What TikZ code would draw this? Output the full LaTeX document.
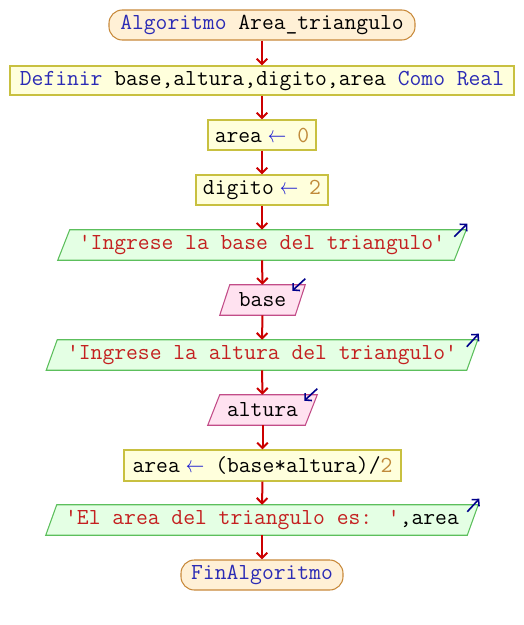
\documentclass[tikz,border=0pt]{standalone}
\usepackage{fontspec}
\usepackage{graphicx}
\usetikzlibrary{arrows.meta,backgrounds,calc}
\definecolor{kw}{HTML}{2B2BB5}
\definecolor{num}{HTML}{C08A3A}
\definecolor{strc}{HTML}{C42020}
\definecolor{asg}{HTML}{1A1AD0}
\definecolor{termfill}{HTML}{FFF0D6}
\definecolor{termdraw}{HTML}{C8893A}
\definecolor{procfill}{HTML}{FFFFDC}
\definecolor{procdraw}{HTML}{C8C040}
\definecolor{outfill}{HTML}{E4FFE4}
\definecolor{outdraw}{HTML}{5CBF5C}
\definecolor{infill}{HTML}{FFE2F0}
\definecolor{indraw}{HTML}{C24C88}
\definecolor{flowred}{HTML}{CC0000}
\definecolor{ioblue}{HTML}{00008B}
\newcommand\paragram[4]{%
  \begin{scope}[on background layer]
  \path[fill=#3,draw=#4,line width=0.8pt]
    ($(#1.south west)+(-#2,0)$) -- ($(#1.south east)+(-#2,0)$) --
    ($(#1.north east)+(#2,0)$) -- ($(#1.north west)+(#2,0)$) -- cycle;
  \end{scope}}
\newcommand\asgarrow{\makebox[3\fontcharwd\font`a][c]{\hspace*{-3.8pt}\textcolor{asg}{\scalebox{0.8}[1]{$\leftarrow$}}}}
\begin{document}
\begin{tikzpicture}[x=0.75pt,y=-0.75pt,
  every node/.style={font=\ttfamily\fontsize{17.2pt}{20pt}\selectfont, inner sep=0pt},
  term/.style={draw=termdraw, fill=termfill, rounded corners=10pt, line width=0.8pt},
  proc/.style={draw=procdraw, fill=procfill, line width=0.8pt},
  flow/.style={draw=flowred, line width=1.5pt, -{Straight Barb[length=4pt,width=8pt]}},
  ioarrow/.style={draw=ioblue, line width=1.2pt, -{Straight Barb[length=3.5pt,width=7.5pt]}}]
\useasboundingbox (0,0) rectangle (524,625);

\node[term, minimum width={306*0.75pt}, minimum height={30*0.75pt}] (start) at (262,25)
  {\textcolor{kw}{Algoritmo} Area\_triangulo};
\node[proc, minimum width={504*0.75pt}, minimum height={29*0.75pt}] (def) at (262,80.5)
  {\textcolor{kw}{Definir} base,altura,digito,area \textcolor{kw}{Como Real}};
\node[proc, minimum width={108*0.75pt}, minimum height={30*0.75pt}] (a0) at (262,135)
  {area\asgarrow\textcolor{num}{0}};
\node[proc, minimum width={132*0.75pt}, minimum height={30*0.75pt}] (d2) at (262,190)
  {digito\asgarrow\textcolor{num}{2}};
\node[minimum width={396*0.75pt}, minimum height={30*0.75pt}] (o1) at (262,245)
  {\textcolor{strc}{'Ingrese la base del triangulo'}};
\node[minimum width={75*0.75pt}, minimum height={30*0.75pt}] (in1) at (262.5,300) {base};
\node[minimum width={420*0.75pt}, minimum height={30*0.75pt}] (o2) at (262,355)
  {\textcolor{strc}{'Ingrese la altura del triangulo'}};
\node[minimum width={97*0.75pt}, minimum height={30*0.75pt}] (in2) at (262.5,410) {altura};
\node[proc, minimum width={277*0.75pt}, minimum height={31*0.75pt}] (calc) at (262.5,465.5)
  {area\asgarrow(base*altura)/\textcolor{num}{2}};
\node[minimum width={421*0.75pt}, minimum height={30*0.75pt}] (o3) at (262,520)
  {\textcolor{strc}{'El area del triangulo es: '},area};
\node[term, minimum width={162*0.75pt}, minimum height={30*0.75pt}] (end) at (262,575)
  {\textcolor{kw}{FinAlgoritmo}};

\paragram{o1}{6}{outfill}{outdraw}
\paragram{in1}{5}{infill}{indraw}
\paragram{o2}{5.5}{outfill}{outdraw}
\paragram{in2}{6}{infill}{indraw}
\paragram{o3}{5.5}{outfill}{outdraw}

\coordinate (o1tr) at ($(o1.north east)+(6,0)$);
\coordinate (in1tr) at ($(in1.north east)+(5,0)$);
\coordinate (o2tr) at ($(o2.north east)+(5.5,0)$);
\coordinate (in2tr) at ($(in2.north east)+(6,0)$);
\coordinate (o3tr) at ($(o3.north east)+(5.5,0)$);
\draw[ioarrow] ($(o1tr)+(-12,7)$) -- ($(o1tr)+(1,-6)$);
\draw[ioarrow] ($(o2tr)+(-11,7)$) -- ($(o2tr)+(1,-6)$);
\draw[ioarrow] ($(o3tr)+(-11,7)$) -- ($(o3tr)+(1,-6)$);
\draw[ioarrow] ($(in1tr)+(0,-6)$) -- ($(in1tr)+(-13,6)$);
\draw[ioarrow] ($(in2tr)+(0,-6)$) -- ($(in2tr)+(-13,6)$);

\draw[flow] (start.south) -- (def.north);
\draw[flow] (def.south) -- (a0.north);
\draw[flow] (a0.south) -- (d2.north);
\draw[flow] (d2.south) -- (o1.north);
\draw[flow] (o1.south) -- (in1.north);
\draw[flow] (in1.south) -- (o2.north);
\draw[flow] (o2.south) -- (in2.north);
\draw[flow] (in2.south) -- (calc.north);
\draw[flow] (calc.south) -- (o3.north);
\draw[flow] (o3.south) -- (end.north);
\end{tikzpicture}
\end{document}
